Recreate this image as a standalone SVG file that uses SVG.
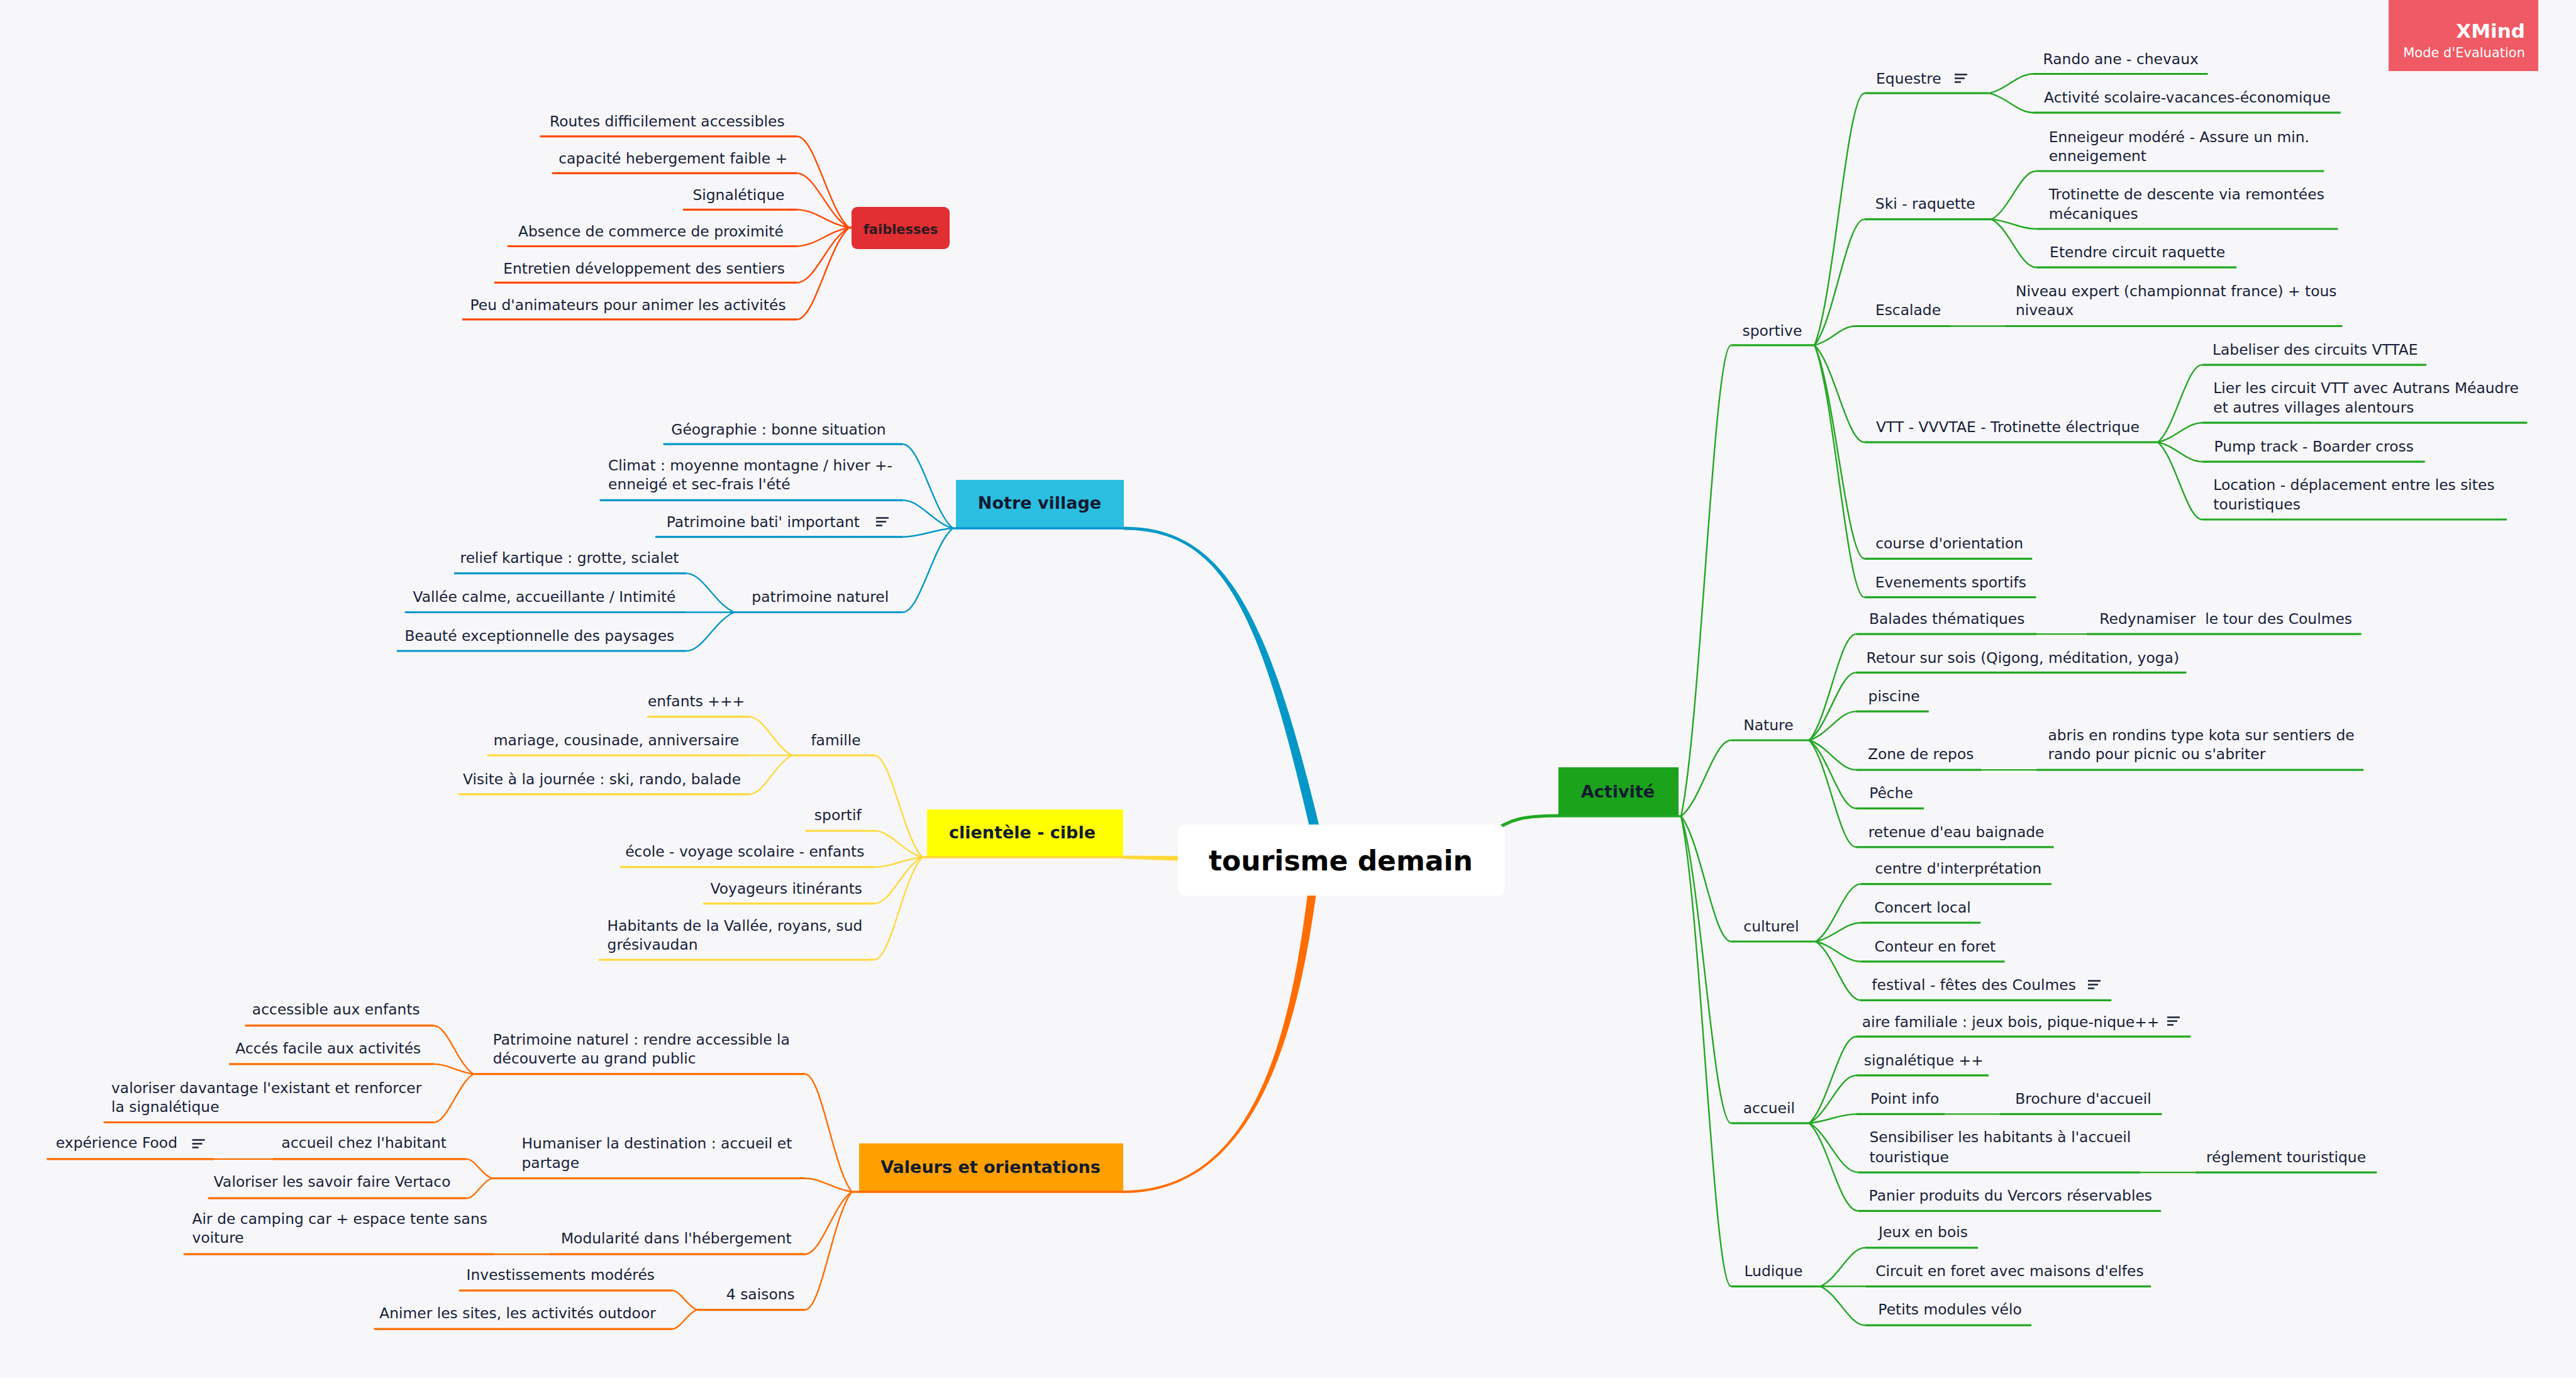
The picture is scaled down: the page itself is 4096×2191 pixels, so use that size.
<svg xmlns="http://www.w3.org/2000/svg" width="4096" height="2191" viewBox="0 0 4096 2191">
<style>
text{font-family:"DejaVu Sans","Liberation Sans",sans-serif;fill:#18213A}
.l{font-size:23.4px;text-anchor:middle}
.s{font-size:23.4px}
.h{font-size:27px;font-weight:bold;text-anchor:middle;fill:#111B30}
.u{fill:none;stroke-width:3.2}
.k{fill:none;stroke-width:2.4}
.B{stroke:#0398C7}.Y{stroke:#FFD93B}.O{stroke:#FF6D00}.G{stroke:#22A722}.R{stroke:#FF4A00}
</style>
<defs>
<g id="note-icon"><path d="M0 1.5H20M0 7.5H16M0 13.5H10" fill="none" stroke="#18213A" stroke-width="2.4"/></g>
</defs>
<rect width="4096" height="2191" fill="#F7F7F9"/>

<g id="connectors">
<path fill="#0398C7" d="M1787,837.5 C1950,837.5 2019,980 2104,1340 L2088,1340 C2005,980 1950,842.5 1787,842.5 Z"/>
<path fill="#FF6D00" d="M2083,1390 C2056,1620 2005,1893 1786,1893 L1786,1897 C2005,1897 2068,1620 2097,1390 Z"/>
<path fill="#FFD93B" d="M1786,1360.5 L1885,1361 L1885,1369 L1786,1365.5 Z"/>
<path fill="none" stroke="#22A722" stroke-width="5" d="M2370,1326 C2400,1300 2430,1297 2478,1297"/>
<g class="k R">
<path d="M1354 362H1350C1316.8 333 1296 216.9 1267 216.9"/>
<path d="M1354 362H1350C1316.8 344.7 1296 275.4 1267 275.4"/>
<path d="M1354 362H1350C1316.8 356.3 1296 333.3 1267 333.3"/>
<path d="M1354 362H1350C1316.8 367.9 1296 391.5 1267 391.5"/>
<path d="M1354 362H1350C1316.8 379.5 1296 449.4 1267 449.4"/>
<path d="M1354 362H1350C1316.8 391.2 1296 507.9 1267 507.9"/>
</g>
<g class="k B">
<path d="M1520 840H1515C1483.1 812.8 1463.1 706.2 1435.2 706.2"/>
<path d="M1520 840H1515C1483.1 830.7 1463.1 795.3 1435.2 795.3"/>
<path d="M1520 840H1515C1483.1 842.3 1463.1 853.7 1435.2 853.7"/>
<path d="M1520 840H1515C1483.1 866.3 1463.1 973.5 1435.2 973.5"/>
<path d="M1167.6 973.5C1137 961.1 1117.9 911.6 1091.1 911.6"/>
<path d="M1167.6 973.5H1091.1"/>
<path d="M1167.6 973.5C1137 985.8 1117.9 1035 1091.1 1035"/>
</g>
<g class="k Y">
<path d="M1474 1363H1466.4C1435.8 1330.6 1416.7 1201 1390 1201"/>
<path d="M1474 1363H1466.4C1435.8 1354.6 1416.7 1321 1390 1321"/>
<path d="M1474 1363H1466.4C1435.8 1366.1 1416.7 1378.7 1390 1378.7"/>
<path d="M1474 1363H1466.4C1435.8 1377.7 1416.7 1436.7 1390 1436.7"/>
<path d="M1474 1363H1466.4C1435.8 1395.6 1416.7 1526 1390 1526"/>
<path d="M1260 1201C1232.4 1188.7 1215.2 1139.6 1191 1139.6"/>
<path d="M1260 1201H1191"/>
<path d="M1260 1201C1232.4 1213.4 1215.2 1262.9 1191 1262.9"/>
</g>
<g class="k O">
<path d="M1366 1895H1354.5C1324.7 1857.5 1306.1 1707.7 1280 1707.7"/>
<path d="M1366 1895H1354.5C1324.7 1890.7 1306.1 1873.5 1280 1873.5"/>
<path d="M1366 1895H1354.5C1324.7 1914.8 1306.1 1994.2 1280 1994.2"/>
<path d="M1366 1895H1354.5C1324.7 1932.5 1306.1 2082.6 1280 2082.6"/>
<path d="M752.8 1707.7C727.6 1692.3 711.9 1630.7 689.8 1630.7"/>
<path d="M752.8 1707.7C727.6 1704.5 711.9 1691.9 689.8 1691.9"/>
<path d="M752.8 1707.7C727.6 1723.1 711.9 1784.5 689.8 1784.5"/>
<path d="M781.5 1873.5C765.5 1867.4 755.5 1842.9 741.5 1842.9"/>
<path d="M781.5 1873.5C765.5 1879.8 755.5 1905.2 741.5 1905.2"/>
<path d="M434 1842.9H340"/>
<path d="M873 1994.2H785"/>
<path d="M1108 2082.6C1092 2076.4 1082 2051.8 1068 2051.8"/>
<path d="M1108 2082.6C1092 2088.7 1082 2113.2 1068 2113.2"/>
</g>
<g class="k G">
<path d="M2673 1297.7C2704.8 1147.9 2724.7 548.9 2752.5 548.9"/>
<path d="M2673 1297.7C2704.8 1273.6 2724.7 1177 2752.5 1177"/>
<path d="M2673 1297.7C2704.8 1337.6 2724.7 1497 2752.5 1497"/>
<path d="M2673 1297.7C2704.8 1395.3 2724.7 1785.8 2752.5 1785.8"/>
<path d="M2673 1297.7C2704.8 1447.2 2724.7 2045.3 2752.5 2045.3"/>
<path d="M2885.2 548.9C2916.9 468.8 2936.7 148.2 2964.5 148.2"/>
<path d="M2885.2 548.9C2916.9 508.8 2936.7 348.6 2964.5 348.6"/>
<path d="M2885.2 548.9C2911.1 542.8 2927.3 518.5 2950 518.5"/>
<path d="M2885.2 548.9C2916.9 579.7 2936.7 703.1 2964.5 703.1"/>
<path d="M2885.2 548.9C2916.9 616.8 2936.7 888.3 2964.5 888.3"/>
<path d="M2885.2 548.9C2916.9 629 2936.7 949.6 2964.5 949.6"/>
<path d="M3162.6 148.2C3190.8 142.1 3208.4 117.5 3233 117.5"/>
<path d="M3162.6 148.2C3190.8 154.4 3208.4 179.2 3233 179.2"/>
<path d="M3167 348.6C3195.2 333.3 3212.8 272 3237.5 272"/>
<path d="M3167 348.6C3195.2 351.7 3212.8 364 3237.5 364"/>
<path d="M3167 348.6C3195.2 363.9 3212.8 425.2 3237.5 425.2"/>
<path d="M3101 518.5H3189"/>
<path d="M3431.2 703.1C3459.4 678.5 3477 580.1 3501.6 580.1"/>
<path d="M3431.2 703.1C3459.4 696.9 3477 672.2 3501.6 672.2"/>
<path d="M3431.2 703.1C3459.4 709.3 3477 734.1 3501.6 734.1"/>
<path d="M3431.2 703.1C3459.4 727.7 3477 826 3501.6 826"/>
<path d="M2876.8 1177C2906.6 1143.2 2925.2 1008.1 2951.2 1008.1"/>
<path d="M2876.8 1177C2906.6 1155.5 2925.2 1069.4 2951.2 1069.4"/>
<path d="M2876.8 1177C2906.6 1167.8 2925.2 1131.1 2951.2 1131.1"/>
<path d="M2876.8 1177C2906.6 1186.4 2925.2 1224.1 2951.2 1224.1"/>
<path d="M2876.8 1177C2906.6 1198.7 2925.2 1285.4 2951.2 1285.4"/>
<path d="M2876.8 1177C2906.6 1211 2925.2 1346.8 2951.2 1346.8"/>
<path d="M3238.7 1008.1H3318"/>
<path d="M3150 1224.1H3238"/>
<path d="M2887.3 1497C2915.7 1478.7 2933.5 1405.6 2958.3 1405.6"/>
<path d="M2887.3 1497C2915.7 1491 2933.5 1467.2 2958.3 1467.2"/>
<path d="M2887.3 1497C2915.7 1503.4 2933.5 1528.8 2958.3 1528.8"/>
<path d="M2887.3 1497C2915.7 1515.7 2933.5 1590.4 2958.3 1590.4"/>
<path d="M2876.8 1785.8C2906.6 1758.3 2925.2 1648.2 2951.2 1648.2"/>
<path d="M2876.8 1785.8C2906.6 1770.6 2925.2 1709.9 2951.2 1709.9"/>
<path d="M2876.8 1785.8C2906.6 1782.9 2925.2 1771.4 2951.2 1771.4"/>
<path d="M2876.8 1785.8C2906.6 1801.5 2925.2 1864.1 2954.8 1864.1"/>
<path d="M2876.8 1785.8C2906.6 1813.7 2925.2 1925.4 2954.8 1925.4"/>
<path d="M3092 1771.4H3180"/>
<path d="M3403 1864.1H3490.6"/>
<path d="M2894.5 2045.3C2922.9 2033 2940.6 1983.9 2965.4 1983.9"/>
<path d="M2894.5 2045.3H2965.4"/>
<path d="M2894.5 2045.3C2922.9 2057.7 2940.6 2107.2 2965.4 2107.2"/>
</g>
</g>

<g id="central">
<rect x="1873" y="1311" width="520" height="113" rx="12" fill="#FFFFFF"/>
<text x="2132" y="1384" style="font-size:44px;font-weight:bold;text-anchor:middle;fill:#000">tourisme demain</text>
</g>

<g id="faiblesses">
<rect x="1354" y="329" width="156" height="67" rx="9" fill="#E22F32"/>
<text x="1432" y="371.5" style="font-size:21px;font-weight:bold;text-anchor:middle;fill:#2A1B22">faiblesses</text>
</g>
<g id="f1"><path class="u R" d="M858.6 216.9H1267"/><text class="l" x="1060.8" y="201">Routes difficilement accessibles</text></g>
<g id="f2"><path class="u R" d="M878 275.4H1267"/><text class="l" x="1070.2" y="259.6">capacité hebergement faible +</text></g>
<g id="f3"><path class="u R" d="M1086 333.3H1267"/><text class="l" x="1174.4" y="318.2">Signalétique</text></g>
<g id="f4"><path class="u R" d="M807 391.5H1267"/><text class="l" x="1034.9" y="376">Absence de commerce de proximité</text></g>
<g id="f5"><path class="u R" d="M786 449.4H1267"/><text class="l" x="1024" y="434.6">Entretien développement des sentiers</text></g>
<g id="f6"><path class="u R" d="M735 507.9H1267"/><text class="l" x="998.6" y="492.8">Peu d'animateurs pour animer les activités</text></g>

<g id="notre-village">
<rect x="1520" y="763" width="267" height="77" fill="#2CBEE1"/>
<path d="M1520 840H1787" stroke="#0892D2" stroke-width="3.5"/>
<text class="h" x="1653" y="809">Notre village</text>
</g>
<g id="nv1"><path class="u B" d="M1054.6 706.2H1435.2"/><text class="l" x="1238" y="690.5">Géographie : bonne situation</text></g>
<g id="nv2"><path class="u B" d="M953.6 795.3H1435.2"/><text class="s" x="967" y="747.6">Climat : moyenne montagne / hiver +-<tspan x="967" y="778.4">enneigé et sec-frais l'été</tspan></text></g>
<g id="nv3"><path class="u B" d="M1042 853.7H1435.2"/><text class="l" x="1213.4" y="837.5">Patrimoine bati' important</text><use href="#note-icon" x="1393" y="822"/></g>
<g id="nv4"><path class="u B" d="M1167.6 973.5H1435.2"/><text class="l" x="1304.3" y="957.3">patrimoine naturel</text></g>
<g id="nv4a"><path class="u B" d="M722 911.6H1091.1"/><text class="l" x="905.5" y="895.4">relief kartique : grotte, scialet</text></g>
<g id="nv4b"><path class="u B" d="M643.7 973.5H1091.1"/><text class="l" x="865.5" y="957.3">Vallée calme, accueillante / Intimité</text></g>
<g id="nv4c"><path class="u B" d="M631 1035H1091.1"/><text class="l" x="857.9" y="1018.6">Beauté exceptionnelle des paysages</text></g>

<g id="clientele">
<rect x="1474" y="1287" width="312" height="76" fill="#FFFF00"/>
<path d="M1474 1363H1786" stroke="#FFD93B" stroke-width="3.5"/>
<text class="h" x="1625.5" y="1332.7">clientèle - cible</text>
</g>
<g id="cl1"><path class="u Y" d="M1260 1201H1390"/><text class="l" x="1329" y="1184.8">famille</text></g>
<g id="cl1a"><path class="u Y" d="M1029 1139.6H1191"/><text class="l" x="1107" y="1122.8">enfants +++</text></g>
<g id="cl1b"><path class="u Y" d="M774.5 1201H1191"/><text class="l" x="980" y="1184.8">mariage, cousinade, anniversaire</text></g>
<g id="cl1c"><path class="u Y" d="M728.6 1262.9H1191"/><text class="l" x="957" y="1246.6">Visite à la journée : ski, rando, balade</text></g>
<g id="cl2"><path class="u Y" d="M1280.6 1321H1390"/><text class="l" x="1332.3" y="1304">sportif</text></g>
<g id="cl3"><path class="u Y" d="M986 1378.7H1390"/><text class="l" x="1184.3" y="1362">école - voyage scolaire - enfants</text></g>
<g id="cl4"><path class="u Y" d="M1117.8 1436.7H1390"/><text class="l" x="1250.3" y="1420.5">Voyageurs itinérants</text></g>
<g id="cl5"><path class="u Y" d="M952 1526H1390"/><text class="s" x="965.6" y="1479.5">Habitants de la Vallée, royans, sud<tspan x="965.6" y="1509.6">grésivaudan</tspan></text></g>

<g id="valeurs">
<rect x="1366" y="1818" width="420" height="77" fill="#FFA000"/>
<path d="M1366 1895H1786" stroke="#FF6D00" stroke-width="3.5"/>
<text class="h" x="1575" y="1864.9">Valeurs et orientations</text>
</g>
<g id="va1"><path class="u O" d="M752.8 1707.7H1280"/><text class="s" x="783.7" y="1660.9">Patrimoine naturel : rendre accessible la<tspan x="783.7" y="1690.8">découverte au grand public</tspan></text></g>
<g id="va1a"><path class="u O" d="M389.6 1630.7H689.8"/><text class="l" x="534.3" y="1613.3">accessible aux enfants</text></g>
<g id="va1b"><path class="u O" d="M364.2 1691.9H689.8"/><text class="l" x="521.8" y="1674.6">Accés facile aux activités</text></g>
<g id="va1c"><path class="u O" d="M164.8 1784.5H689.8"/><text class="s" x="177" y="1737.7">valoriser davantage l'existant et renforcer<tspan x="177" y="1768.3">la signalétique</tspan></text></g>
<g id="va2"><path class="u O" d="M781.5 1873.5H1280"/><text class="s" x="829.5" y="1826">Humaniser la destination : accueil et<tspan x="829.5" y="1856.6">partage</tspan></text></g>
<g id="va2a"><path class="u O" d="M434 1842.9H741.5"/><text class="l" x="578.8" y="1825.3">accueil chez l'habitant</text></g>
<g id="va2a1"><path class="u O" d="M74.2 1842.9H340"/><text class="l" x="185.4" y="1825.3">expérience Food</text><use href="#note-icon" x="305.6" y="1811"/></g>
<g id="va2b"><path class="u O" d="M331 1905.2H741.5"/><text class="l" x="528.2" y="1887.2">Valoriser les savoir faire Vertaco</text></g>
<g id="va3"><path class="u O" d="M873 1994.2H1280"/><text class="l" x="1075.3" y="1976.5">Modularité dans l'hébergement</text></g>
<g id="va3a"><path class="u O" d="M291.9 1994.2H785"/><text class="s" x="305.6" y="1945.6">Air de camping car + espace tente sans<tspan x="305.6" y="1975.5">voiture</tspan></text></g>
<g id="va4"><path class="u O" d="M1108 2082.6H1280"/><text class="l" x="1209.3" y="2065.5">4 saisons</text></g>
<g id="va4a"><path class="u O" d="M729.8 2051.8H1068"/><text class="l" x="891.3" y="2034.7">Investissements modérés</text></g>
<g id="va4b"><path class="u O" d="M594.6 2113.2H1068"/><text class="l" x="823" y="2096.3">Animer les sites, les activités outdoor</text></g>

<g id="activite">
<rect x="2478" y="1220" width="191" height="78" fill="#1BA31B"/>
<path d="M2478 1297.7H2673" stroke="#22A722" stroke-width="3.5"/>
<text class="h" x="2572.4" y="1267.8">Activité</text>
</g>
<g id="ac1"><path class="u G" d="M2752.5 548.9H2885.2"/><text class="l" x="2817.9" y="533.9">sportive</text></g>
<g id="ac1a"><path class="u G" d="M2964.5 148.2H3162.6"/><text class="l" x="3034.9" y="132.5">Equestre</text><use href="#note-icon" x="3108" y="117"/></g>
<g id="ac1a1"><path class="u G" d="M3233 117.5H3510.6"/><text class="l" x="3372.2" y="101.5">Rando ane - chevaux</text></g>
<g id="ac1a2"><path class="u G" d="M3233 179.2H3721.8"/><text class="l" x="3477.9" y="163.2">Activité scolaire-vacances-économique</text></g>
<g id="ac1b"><path class="u G" d="M2964.5 348.6H3167"/><text class="l" x="3061.3" y="332">Ski - raquette</text></g>
<g id="ac1b1"><path class="u G" d="M3237.5 272H3695.4"/><text class="s" x="3257.7" y="225.8">Enneigeur modéré - Assure un min.<tspan x="3257.7" y="255.7">enneigement</tspan></text></g>
<g id="ac1b2"><path class="u G" d="M3237.5 364H3717.4"/><text class="s" x="3257.7" y="317">Trotinette de descente via remontées<tspan x="3257.7" y="348">mécaniques</tspan></text></g>
<g id="ac1b3"><path class="u G" d="M3237.5 425.2H3556.3"/><text class="l" x="3398.6" y="408.9">Etendre circuit raquette</text></g>
<g id="ac1c"><path class="u G" d="M2950 518.5H3101"/><text class="l" x="3034" y="501.1">Escalade</text></g>
<g id="ac1c1"><path class="u G" d="M3189 518.5H3724.5"/><text class="s" x="3204.9" y="471.2">Niveau expert (championnat france) + tous<tspan x="3204.9" y="501.1">niveaux</tspan></text></g>
<g id="ac1d"><path class="u G" d="M2964.5 703.1H3431.2"/><text class="l" x="3192.5" y="687.2">VTT - VVVTAE - Trotinette électrique</text></g>
<g id="ac1d1"><path class="u G" d="M3501.6 580.1H3858.2"/><text class="l" x="3681.3" y="564.3">Labeliser des circuits VTTAE</text></g>
<g id="ac1d2"><path class="u G" d="M3501.6 672.2H4018.5"/><text class="s" x="3519.3" y="625">Lier les circuit VTT avec Autrans Méaudre<tspan x="3519.3" y="656.2">et autres villages alentours</tspan></text></g>
<g id="ac1d3"><path class="u G" d="M3501.6 734.1H3855.6"/><text class="l" x="3679.2" y="717.6">Pump track - Boarder cross</text></g>
<g id="ac1d4"><path class="u G" d="M3501.6 826H3986"/><text class="s" x="3519.3" y="779.2">Location - déplacement entre les sites<tspan x="3519.3" y="810.2">touristiques</tspan></text></g>
<g id="ac1e"><path class="u G" d="M2964.5 888.3H3231.3"/><text class="l" x="3099.6" y="872.3">course d'orientation</text></g>
<g id="ac1f"><path class="u G" d="M2964.5 949.6H3237.5"/><text class="l" x="3101.8" y="933.7">Evenements sportifs</text></g>

<g id="ac2"><path class="u G" d="M2752.5 1177H2876.8"/><text class="l" x="2811.9" y="1161.3">Nature</text></g>
<g id="ac2a"><path class="u G" d="M2951.2 1008.1H3238.7"/><text class="l" x="3095.7" y="991.5">Balades thématiques</text></g>
<g id="ac2a1"><path class="u G" d="M3318 1008.1H3754.6"/><text class="l" x="3539.2" y="991.5" xml:space="preserve">Redynamiser  le tour des Coulmes</text></g>
<g id="ac2b"><path class="u G" d="M2951.2 1069.4H3476.4"/><text class="l" x="3216.3" y="1053.5">Retour sur sois (Qigong, méditation, yoga)</text></g>
<g id="ac2c"><path class="u G" d="M2951.2 1131.1H3066.9"/><text class="l" x="3011.6" y="1115.1">piscine</text></g>
<g id="ac2d"><path class="u G" d="M2951.2 1224.1H3150"/><text class="l" x="3054.2" y="1207">Zone de repos</text></g>
<g id="ac2d1"><path class="u G" d="M3238 1224.1H3758.1"/><text class="s" x="3256.4" y="1177">abris en rondins type kota sur sentiers de<tspan x="3256.4" y="1207">rando pour picnic ou s'abriter</tspan></text></g>
<g id="ac2e"><path class="u G" d="M2951.2 1285.4H3059.1"/><text class="l" x="3007" y="1269.2">Pêche</text></g>
<g id="ac2f"><path class="u G" d="M2951.2 1346.8H3265.6"/><text class="l" x="3110.6" y="1330.5">retenue d'eau baignade</text></g>

<g id="ac3"><path class="u G" d="M2752.5 1497H2887.3"/><text class="l" x="2816.4" y="1480.9">culturel</text></g>
<g id="ac3a"><path class="u G" d="M2958.3 1405.6H3262"/><text class="l" x="3113.8" y="1389">centre d'interprétation</text></g>
<g id="ac3b"><path class="u G" d="M2958.3 1467.2H3149.2"/><text class="l" x="3057" y="1450.7">Concert local</text></g>
<g id="ac3c"><path class="u G" d="M2958.3 1528.8H3187.6"/><text class="l" x="3076.9" y="1512.9">Conteur en foret</text></g>
<g id="ac3d"><path class="u G" d="M2958.3 1590.4H3357.2"/><text class="l" x="3138.6" y="1574.2">festival - fêtes des Coulmes</text><use href="#note-icon" x="3320" y="1558"/></g>

<g id="ac4"><path class="u G" d="M2752.5 1785.8H2876.8"/><text class="l" x="2812.8" y="1770.2">accueil</text></g>
<g id="ac4a"><path class="u G" d="M2951.2 1648.2H3483.5"/><text class="l" x="3197.1" y="1632.7">aire familiale : jeux bois, pique-nique++</text><use href="#note-icon" x="3446" y="1616"/></g>
<g id="ac4b"><path class="u G" d="M2951.2 1709.9H3162"/><text class="l" x="3058.8" y="1694">signalétique ++</text></g>
<g id="ac4c"><path class="u G" d="M2951.2 1771.4H3092"/><text class="l" x="3028.6" y="1755.3">Point info</text></g>
<g id="ac4c1"><path class="u G" d="M3180 1771.4H3437.4"/><text class="l" x="3312.5" y="1755.3">Brochure d'accueil</text></g>
<g id="ac4d"><path class="u G" d="M2954.8 1864.1H3403"/><text class="s" x="2972.5" y="1816.3">Sensibiliser les habitants à l'accueil<tspan x="2972.5" y="1847.5">touristique</tspan></text></g>
<g id="ac4d1"><path class="u G" d="M3490.6 1864.1H3779.4"/><text class="l" x="3635" y="1847.5">réglement touristique</text></g>
<g id="ac4e"><path class="u G" d="M2954.8 1925.4H3436"/><text class="l" x="3196.8" y="1908.9">Panier produits du Vercors réservables</text></g>

<g id="ac5"><path class="u G" d="M2752.5 2045.3H2894.5"/><text class="l" x="2819.9" y="2028.7">Ludique</text></g>
<g id="ac5a"><path class="u G" d="M2965.4 1983.9H3145"/><text class="l" x="3058" y="1967.4">Jeux en bois</text></g>
<g id="ac5b"><path class="u G" d="M2965.4 2045.3H3420.3"/><text class="l" x="3195.4" y="2028.7">Circuit en foret avec maisons d'elfes</text></g>
<g id="ac5c"><path class="u G" d="M2965.4 2107.2H3230.1"/><text class="l" x="3100.6" y="2090">Petits modules vélo</text></g>

<g id="xmind-badge">
<rect x="3798" y="0" width="238" height="113" fill="#F05A64"/>
<text x="4015" y="60" style="font-size:31px;font-weight:bold;text-anchor:end;fill:#FFFFFF">XMind</text>
<text x="4015" y="90.6" style="font-size:21px;text-anchor:end;fill:#FFFFFF">Mode d'Evaluation</text>
</g>
</svg>
